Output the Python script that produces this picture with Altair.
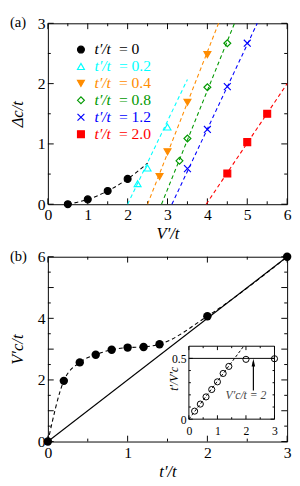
import altair as alt
import pandas as pd

FONT = "Liberation Serif"

# ---------------- panel (a) data ----------------
series = ["0", "0.2", "0.4", "0.8", "1.2", "2.0"]
colors = ["#000000", "#00ffff", "#ff8c00", "#009900", "#0000ff", "#ff0000"]
fills = ["#000000", "transparent", "#ff8c00", "transparent", "transparent", "#ff0000"]
shapes = ["circle", "triangle-up", "triangle-down", "diamond",
          "M-1,-1L1,1M-1,1L1,-1", "square"]

p0_x = [0.5, 1.0, 1.5, 2.0]; p0_y = [0.0, 0.08, 0.22, 0.42]
p1_x = [2.25, 2.5, 3.0];     p1_y = [0.34, 0.60, 1.28]
p2_x = [2.8, 3.0, 3.5, 4.0]; p2_y = [0.46, 0.87, 1.69, 2.48]
p3_x = [3.3, 3.5, 4.0, 4.5]; p3_y = [0.72, 1.09, 1.94, 2.67]
p4_x = [3.5, 4.0, 4.5, 5.0]; p4_y = [0.59, 1.24, 1.95, 2.67]
p5_x = [4.5, 5.0, 5.5];      p5_y = [0.51, 1.03, 1.50]

l0_x = [0.5, 1.0, 1.5, 2.0, 2.5]; l0_y = [0.0, 0.08, 0.22, 0.42, 0.68]
l1_x = [2.0, 3.5];   l1_y = [0.0, 2.07]
l2_x = [2.5, 4.28];  l2_y = [0.0, 3.0]
l3_x = [2.85, 4.68]; l3_y = [0.0, 3.0]
l4_x = [3.11, 5.25]; l4_y = [0.0, 3.0]
l5_x = [3.97, 6.0];  l5_y = [0.0, 2.0]

a_xmaj = [0, 1, 2, 3, 4, 5, 6]; a_xmin = [0.5, 1.5, 2.5, 3.5, 4.5, 5.5]
a_ymaj = [0, 1, 2, 3];          a_ymin = [0.5, 1.5, 2.5]

# ---------------- panel (b) data ----------------
b_t = [0.0, 0.2, 0.4, 0.6, 0.8, 1.0, 1.2, 1.4, 2.0, 3.0]
b_v = [0.0, 1.97, 2.57, 2.82, 2.98, 3.05, 3.07, 3.16, 4.07, 6.0]
diag_x = [0, 3]; diag_y = [0, 6]
b_xmaj = [0, 1, 2, 3]; b_xmin = [0.5, 1.5, 2.5]
b_ymaj = [0, 1, 2, 3, 4, 5, 6]; b_ymin = [0.5, 1.5, 2.5, 3.5, 4.5, 5.5]

# inset
i_t = [0.2, 0.4, 0.6, 0.8, 1.0, 1.2, 1.4, 2.0, 3.0]
i_r = [0.066, 0.124, 0.183, 0.244, 0.307, 0.376, 0.434, 0.492, 0.497]
ifit_x = [0.0, 1.92]; ifit_y = [0.0, 0.6]
ih_x = [0.0, 3.0]; ih_y = [0.5, 0.5]
arrow_x = [2.26, 2.26]; arrow_y = [0.235, 0.47]
head_x = [2.26]; head_y = [0.465]
ann_x = [2.0]; ann_y = [0.2]; ann_text = ["V′c/t = 2"]
i_xmaj = [0, 1, 2, 3]; i_xmin = [0.5, 1.5, 2.5]
i_ymaj = [0, 0.5]; i_ymin = [0.1, 0.2, 0.3, 0.4]

WA, HA = 246, 186
WB, HB = 246, 190

# ---------------- helpers ----------------
def X(field, sc, ax):
    return alt.X(field, type="quantitative", scale=sc, axis=ax)

def Y(field, sc, ax):
    return alt.Y(field, type="quantitative", scale=sc, axis=ax)

def tick_layers(xmaj, xmin, ymaj, ymin, xd, yd, sx, ax, sy, ay, lmaj, lmin):
    out = []
    for vals, L in ((xmaj, lmaj), (xmin, lmin)):
        d = pd.DataFrame({"v": vals})
        out.append(alt.Chart(d).mark_rule(color="black", strokeWidth=1, y2Offset=-L)
                   .encode(x=X("v", sx, ax), y=alt.datum(yd[0]), y2=alt.datum(yd[0])))
        out.append(alt.Chart(d).mark_rule(color="black", strokeWidth=1, y2Offset=L)
                   .encode(x=X("v", sx, ax), y=alt.datum(yd[1]), y2=alt.datum(yd[1])))
    for vals, L in ((ymaj, lmaj), (ymin, lmin)):
        d = pd.DataFrame({"v": vals})
        out.append(alt.Chart(d).mark_rule(color="black", strokeWidth=1, x2Offset=L)
                   .encode(y=Y("v", sy, ay), x=alt.datum(xd[0]), x2=alt.datum(xd[0])))
        out.append(alt.Chart(d).mark_rule(color="black", strokeWidth=1, x2Offset=-L)
                   .encode(y=Y("v", sy, ay), x=alt.datum(xd[1]), x2=alt.datum(xd[1])))
    return out

def main_axis_x(title, vals, title_y):
    return alt.Axis(orient="bottom", title=title, values=vals, format="d", ticks=False,
                    domain=False, grid=False, labelFlush=False, labelOverlap=False,
                    labelFont=FONT, labelFontSize=16, labelColor="black", labelPadding=3,
                    titleFont=FONT, titleFontSize=17, titleFontStyle="italic",
                    titleFontWeight="normal", titleColor="black",
                    titleY=title_y, titleBaseline="top")

def main_axis_y(title, vals, h):
    return alt.Axis(orient="left", title=title, values=vals, format="d", ticks=False,
                    domain=False, grid=False, labelFlush=False, labelOverlap=False,
                    labelFont=FONT, labelFontSize=16, labelColor="black", labelPadding=3,
                    titleFont=FONT, titleFontSize=17, titleFontStyle="italic",
                    titleFontWeight="normal", titleColor="black",
                    titleX=-22, titleY=h / 2, titleAngle=270, titleBaseline="bottom",
                    titleAlign="center")

def panel_label(txt):
    return alt.Chart(pd.DataFrame({"label": [txt]})).mark_text(
        align="left", baseline="top", font=FONT, fontSize=15, color="black").encode(
        x=alt.value(-39), y=alt.value(-8), text="label:N")

# ---------------- panel (a) ----------------
sxa = alt.Scale(domain=[0, 6], nice=False, zero=False)
sya = alt.Scale(domain=[0, 3], nice=False, zero=False)
axa = main_axis_x("V′/t", a_xmaj, 22)
aya = main_axis_y("Δc/t", a_ymaj, HA)

pts_lists = [(p0_x, p0_y), (p1_x, p1_y), (p2_x, p2_y), (p3_x, p3_y), (p4_x, p4_y), (p5_x, p5_y)]
line_lists = [(l0_x, l0_y), (l1_x, l1_y), (l2_x, l2_y), (l3_x, l3_y), (l4_x, l4_y), (l5_x, l5_y)]
rows = []
for s, (xs, ys) in zip(series, pts_lists):
    rows += [{"series": s, "x": a, "y": b} for a, b in zip(xs, ys)]
df_pts = pd.DataFrame(rows)
rows = []
for s, (xs, ys) in zip(series, line_lists):
    rows += [{"series": s, "x": a, "y": b, "i": k} for k, (a, b) in enumerate(zip(xs, ys))]
df_lines = pd.DataFrame(rows)

color_sc = alt.Scale(domain=series, range=colors)
fill_sc = alt.Scale(domain=series, range=fills)
shape_sc = alt.Scale(domain=series, range=shapes)

a_lines = alt.Chart(df_lines).mark_line(strokeDash=[4, 3], strokeWidth=1.1,
                                         interpolate="monotone").encode(
    x=X("x", sxa, axa), y=Y("y", sya, aya),
    color=alt.Color("series:N", scale=color_sc, legend=None),
    detail="series:N", order="i:Q")
a_pts = alt.Chart(df_pts).mark_point(size=50, strokeWidth=1.2, opacity=1).encode(
    x=X("x", sxa, axa), y=Y("y", sya, aya),
    stroke=alt.Stroke("series:N", scale=color_sc, legend=None),
    fill=alt.Fill("series:N", scale=fill_sc, legend=None),
    shape=alt.Shape("series:N", scale=shape_sc, legend=None))

main_a = alt.layer(
    *tick_layers(a_xmaj, a_xmin, a_ymaj, a_ymin, [0, 6], [0, 3], sxa, axa, sya, aya, 6, 3),
    a_lines, a_pts, panel_label("(a)"))

# legend drawn from the series list through an ordinal row scale
df_leg = pd.DataFrame({"series": series,
                       "name": ["t′/t"] * len(series),
                       "eq": ["= " + s for s in series]})
leg_y = alt.Y("series:N", scale=alt.Scale(type="point", domain=series, range=[27, 114],
                                          padding=0), axis=None)
leg_sym = alt.Chart(df_leg).mark_point(size=50, strokeWidth=1.2, opacity=1).encode(
    x=alt.value(34), y=leg_y,
    stroke=alt.Stroke("series:N", scale=color_sc, legend=None),
    fill=alt.Fill("series:N", scale=fill_sc, legend=None),
    shape=alt.Shape("series:N", scale=shape_sc, legend=None))
leg_name = alt.Chart(df_leg).mark_text(align="left", baseline="middle", font=FONT,
                                       fontSize=16, fontStyle="italic").encode(
    x=alt.value(48), y=leg_y, text="name:N",
    color=alt.Color("series:N", scale=color_sc, legend=None))
leg_eq = alt.Chart(df_leg).mark_text(align="left", baseline="middle", font=FONT,
                                     fontSize=16).encode(
    x=alt.value(73), y=leg_y, text="eq:N",
    color=alt.Color("series:N", scale=color_sc, legend=None))
legend_a = alt.layer(leg_sym, leg_name, leg_eq)

panel_a = alt.layer(main_a, legend_a).resolve_scale(y="independent").properties(
    width=WA, height=HA)

# ---------------- panel (b) ----------------
sxb = alt.Scale(domain=[0, 3], nice=False, zero=False)
syb = alt.Scale(domain=[0, 6], nice=False, zero=False)
axb = main_axis_x("t′/t", b_xmaj, 23)
ayb = main_axis_y("V′c/t", b_ymaj, HB)

df_b = pd.DataFrame({"t": b_t, "v": b_v})
df_diag = pd.DataFrame({"t": diag_x, "v": diag_y})

b_diag = alt.Chart(df_diag).mark_line(color="black", strokeWidth=1.1).encode(
    x=X("t", sxb, axb), y=Y("v", syb, ayb))
b_curve = alt.Chart(df_b).mark_line(color="black", strokeWidth=1.1, strokeDash=[4, 3],
                                     interpolate="monotone").encode(
    x=X("t", sxb, axb), y=Y("v", syb, ayb))
b_pts = alt.Chart(df_b).mark_circle(size=75, color="black", opacity=1).encode(
    x=X("t", sxb, axb), y=Y("v", syb, ayb))

main_b = alt.layer(
    *tick_layers(b_xmaj, b_xmin, b_ymaj, b_ymin, [0, 3], [0, 6], sxb, axb, syb, ayb, 6, 3),
    b_diag, b_curve, b_pts, panel_label("(b)"))

# inset
isx = alt.Scale(domain=[0, 3], range=[145, 233], nice=False, zero=False)
isy = alt.Scale(domain=[0, 0.6], range=[167, 92], nice=False, zero=False)
iax = alt.Axis(orient="bottom", offset=-(HB - 167), values=i_xmaj, format="d", ticks=False,
               domain=False, grid=False, labelFlush=False, labelOverlap=False,
               labelFont=FONT, labelFontSize=12, labelColor="black", labelPadding=7, title=None)
iay = alt.Axis(orient="left", offset=-145, values=i_ymaj, format="~g", ticks=False,
               domain=False, grid=False, labelFlush=False, labelOverlap=False,
               labelFont=FONT, labelFontSize=12, labelColor="black", labelPadding=3,
               title="t′/V′c", titleFont=FONT, titleFontSize=12, titleFontStyle="italic",
               titleFontWeight="normal", titleColor="black", titleX=-9, titleY=125,
               titleAngle=270, titleBaseline="bottom", titleAlign="center")

df_i = pd.DataFrame({"t": i_t, "r": i_r})
df_fit = pd.DataFrame({"t": ifit_x, "r": ifit_y})
df_h = pd.DataFrame({"t": ih_x, "r": ih_y})
df_arrow = pd.DataFrame({"t": arrow_x, "r": arrow_y})
df_head = pd.DataFrame({"t": head_x, "r": head_y})
df_ann = pd.DataFrame({"t": ann_x, "r": ann_y, "label": ann_text})
df_box = pd.DataFrame({"x0": [0, 0, 0, 3], "x1": [3, 3, 0, 3],
                       "y0": [0, 0.6, 0, 0], "y1": [0, 0.6, 0.6, 0.6]})

i_box = alt.Chart(df_box).mark_rule(color="black", strokeWidth=1).encode(
    x=X("x0", isx, iax), x2="x1", y=Y("y0", isy, iay), y2="y1")
i_h = alt.Chart(df_h).mark_line(color="black", strokeWidth=1).encode(
    x=X("t", isx, iax), y=Y("r", isy, iay))
i_fit = alt.Chart(df_fit).mark_line(color="black", strokeWidth=1, strokeDash=[3, 2]).encode(
    x=X("t", isx, iax), y=Y("r", isy, iay))
i_pts = alt.Chart(df_i).mark_point(shape="circle", size=40, color="black", strokeWidth=1,
                                   filled=False, opacity=1).encode(
    x=X("t", isx, iax), y=Y("r", isy, iay))
i_arrow = alt.Chart(df_arrow).mark_line(color="black", strokeWidth=1.2).encode(
    x=X("t", isx, iax), y=Y("r", isy, iay))
i_head = alt.Chart(df_head).mark_point(shape="M0,-1L0.45,1L-0.45,1Z", size=64, filled=True,
                                       color="black", opacity=1).encode(
    x=X("t", isx, iax), y=Y("r", isy, iay))
i_text = alt.Chart(df_ann).mark_text(font=FONT, fontSize=12, fontStyle="italic",
                                     color="#444444").encode(
    x=X("t", isx, iax), y=Y("r", isy, iay), text="label:N")

inset = alt.layer(
    *tick_layers(i_xmaj, i_xmin, i_ymaj, i_ymin, [0, 3], [0, 0.6], isx, iax, isy, iay, 4, 2),
    i_box, i_h, i_fit, i_pts, i_arrow, i_head, i_text)

panel_b = alt.layer(main_b, inset).resolve_scale(x="independent", y="independent").properties(
    width=WB, height=HB)

chart = alt.vconcat(panel_a, panel_b, spacing=6, padding=0).configure_view(
    stroke="black", strokeWidth=1)

chart.save("out.html", embed_options={"renderer": "svg", "actions": False})
